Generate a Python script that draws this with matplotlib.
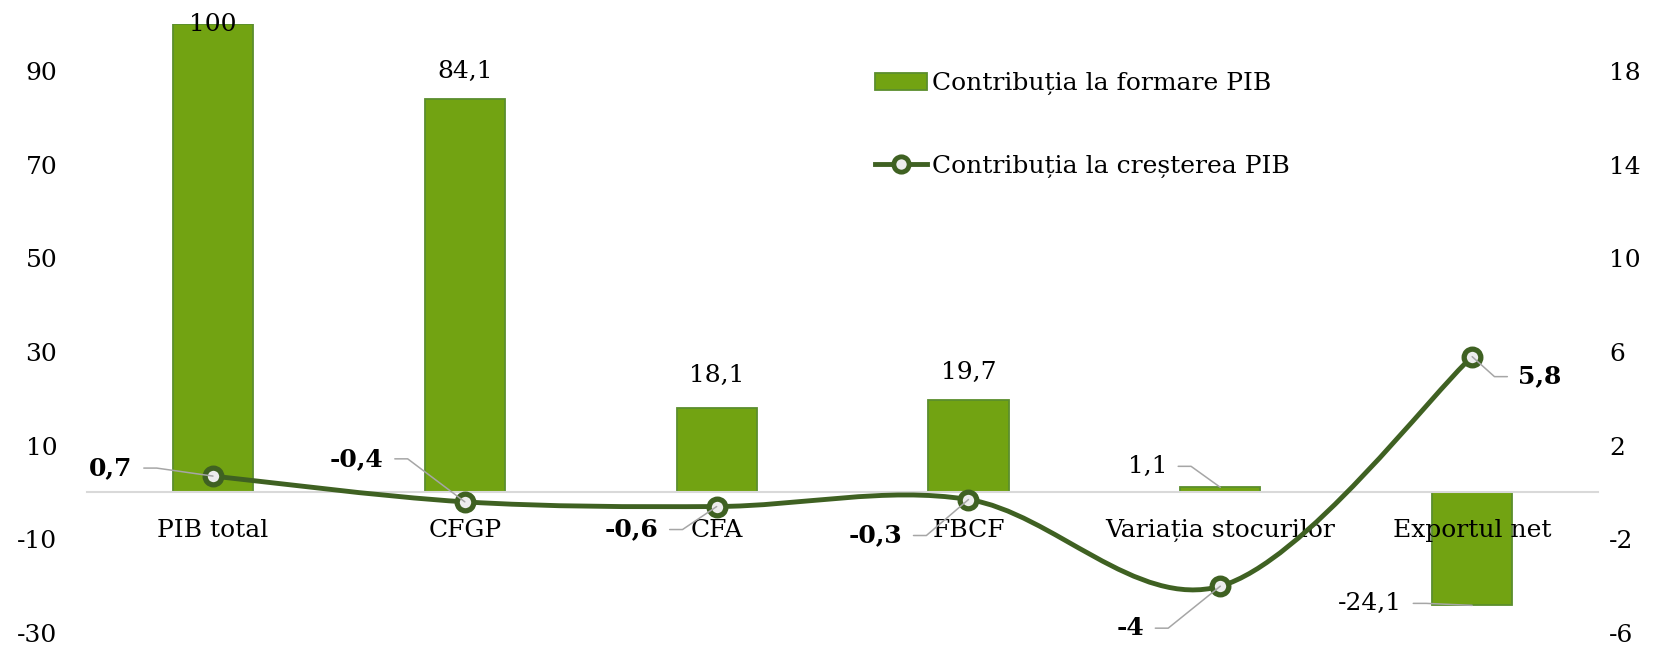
import matplotlib
matplotlib.use('Agg')
import matplotlib.pyplot as plt
from matplotlib.path import Path
from matplotlib.patches import PathPatch, Patch
from matplotlib.lines import Line2D

# ── DATA ──────────────────────────────────────────────────
categories = ['PIB total', 'CFGP', 'CFA', 'FBCF', 'Variația stocurilor', 'Exportul net']
formare = [100, 84.1, 18.1, 19.7, 1.1, -24.1]       # bars, left axis
crestere = [0.7, -0.4, -0.6, -0.3, -4, 5.8]         # line, right axis
left_ticks = [-30, -10, 10, 30, 50, 70, 90]
right_ticks = [-6, -2, 2, 6, 10, 14, 18]
series_names = ['Contribuția la formare PIB', 'Contribuția la creșterea PIB']

# label offsets in pixels (dx, dy), and whether a leader line is drawn
bar_offsets = [(0, 0), (0, 27), (0, 32), (0, 28), (-73, 21), (-102, 2)]
bar_leaders = [False, False, False, False, True, True]
line_offsets = [(-102, 8), (-108, 43), (-85, -23), (-93, -36), (-90, -42), (68, -20)]

# ── STYLE ─────────────────────────────────────────────────
FS = 18
plt.rcParams['font.family'] = ['DejaVu Serif']
plt.rcParams['font.size'] = FS
plt.rcParams['axes.unicode_minus'] = False
BAR_COLOR = '#72A312'
BAR_EDGE = '#5B8E2D'
LINE_COLOR = '#3F6122'
MARKER_FACE = '#EDEDED'
LEADER = '#A6A6A6'


def fmt(v):
    return f'{v:g}'.replace('.', ',')


def smooth_path(xs, ys):
    # Bezier path through the points (same idea as the "smoothed line" option)
    pts = list(zip(xs, ys))
    n = len(pts)
    verts = [pts[0]]
    codes = [Path.MOVETO]
    for i in range(n - 1):
        p0 = pts[max(i - 1, 0)]
        p1 = pts[i]
        p2 = pts[i + 1]
        p3 = pts[min(i + 2, n - 1)]
        c1 = (p1[0] + (p2[0] - p0[0]) / 6, p1[1] + (p2[1] - p0[1]) / 6)
        c2 = (p2[0] - (p3[0] - p1[0]) / 6, p2[1] - (p3[1] - p1[1]) / 6)
        verts += [c1, c2, p2]
        codes += [Path.CURVE4] * 3
    return Path(verts, codes)


fig = plt.figure(figsize=(16.65, 6.46), dpi=100)
ax1 = fig.add_axes([0.0523, 0.0201, 0.9075, 0.9427])
ax2 = ax1.twinx()

x = list(range(len(categories)))

# bars
ax1.bar(x, formare, width=0.318, color=BAR_COLOR, edgecolor=BAR_EDGE, linewidth=1.3, zorder=2)
ax1.set_axisbelow(False)   # category labels over the bars
ax1.set_xlim(-0.5, len(categories) - 0.5)
ax1.set_ylim(-30, 100)
for s in ['top', 'left', 'right']:
    ax1.spines[s].set_visible(False)
ax1.spines['bottom'].set_position(('data', 0))
ax1.spines['bottom'].set_color('#D9D9D9')
ax1.spines['bottom'].set_linewidth(1.5)
ax1.set_yticks(left_ticks)
ax1.set_xticks(x)
ax1.set_xticklabels(categories)
ax1.tick_params(axis='y', length=0, pad=21.5, labelsize=FS)
ax1.tick_params(axis='x', length=0, pad=19, labelsize=FS)

for xi, v, (dx, dy), lead in zip(x, formare, bar_offsets, bar_leaders):
    if lead:
        ax1.annotate(fmt(v), xy=(xi, v), xytext=(dx, dy), textcoords='offset pixels',
                     ha='center', va='center', fontsize=FS,
                     arrowprops=dict(arrowstyle='-', color=LEADER, lw=1.1, patchA=None,
                                     shrinkA=8, shrinkB=0, relpos=(1, 0.5),
                                     connectionstyle='arc,angleA=0,armA=24,rad=0'))
    else:
        ax1.annotate(fmt(v), xy=(xi, v), xytext=(dx, dy), textcoords='offset pixels',
                     ha='center', va='center', fontsize=FS)

# smoothed line with markers
ax2.set_ylim(-6, 20)
ax2.set_yticks(right_ticks)
ax2.tick_params(axis='y', length=0, pad=8, labelsize=FS)
for s in ax2.spines.values():
    s.set_visible(False)
ax2.add_patch(PathPatch(smooth_path(x, crestere), fill=False, edgecolor=LINE_COLOR,
                        lw=3.5, capstyle='round', joinstyle='round', zorder=3))
ax2.plot(x, crestere, ls='none', marker='o', ms=12, mfc=MARKER_FACE,
         mec=LINE_COLOR, mew=3.8, zorder=4)

for xi, v, (dx, dy) in zip(x, crestere, line_offsets):
    right_side = dx > 0
    ax2.annotate(fmt(v), xy=(xi, v), xytext=(dx, dy), textcoords='offset pixels',
                 ha='center', va='center', fontsize=FS, fontweight='bold', zorder=5,
                 arrowprops=dict(arrowstyle='-', color=LEADER, lw=1.1, patchA=None,
                                 shrinkA=8, shrinkB=0,
                                 relpos=(0, 0.5) if right_side else (1, 0.5),
                                 connectionstyle='arc,angleA=%d,armA=24,rad=0'
                                 % (180 if right_side else 0)))

# legend
handles = [Patch(facecolor=BAR_COLOR, edgecolor=BAR_EDGE, linewidth=1.3),
           Line2D([], [], color=LINE_COLOR, lw=3.5, marker='o', ms=11, mfc=MARKER_FACE,
                  mec=LINE_COLOR, mew=3.5)]
fig.legend(handles, series_names, loc='upper left', bbox_to_anchor=(875 / 1665, 1 - 72 / 646),
           frameon=False, fontsize=FS, handlelength=2.1, handletextpad=0.2,
           labelspacing=2.4, borderpad=0, borderaxespad=0)

plt.savefig('out.png', dpi=100)
